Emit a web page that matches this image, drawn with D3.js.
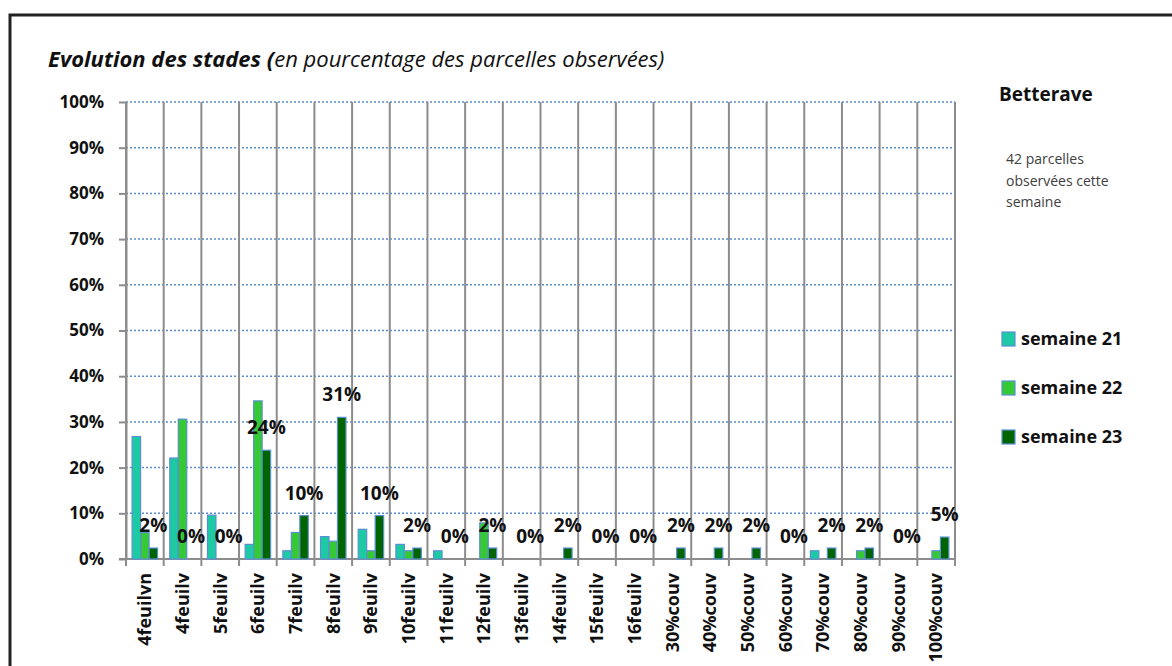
<!DOCTYPE html>
<html>
<head>
<meta charset="utf-8">
<script src="https://cdn.jsdelivr.net/npm/d3@7"></script>
<style>
  body { margin: 0; background: #fff; }
  svg { display: block; font-family: "Open Sans", sans-serif; }
</style>
</head>
<body>
<div id="chart-area"></div>
<script>
// stades observés
var categories = ["4feuilvn", "4feuilv", "5feuilv", "6feuilv", "7feuilv", "8feuilv", "9feuilv",
  "10feuilv", "11feuilv", "12feuilv", "13feuilv", "14feuilv", "15feuilv", "16feuilv",
  "30%couv", "40%couv", "50%couv", "60%couv", "70%couv", "80%couv", "90%couv", "100%couv"]

// % des parcelles
var semaine21 = [26.8, 22.1, 9.6, 3.2, 1.8, 4.9, 6.5, 3.2, 1.8, 0, 0, 0, 0, 0, 0, 0, 0, 0, 1.8, 0, 0, 0]
var semaine22 = [5.8, 30.6, 0, 34.6, 5.8, 3.9, 1.8, 1.8, 0, 7.9, 0, 0, 0, 0, 0, 0, 0, 0, 0, 1.8, 0, 1.8]
var semaine23 = [2.4, 0, 0, 23.8, 9.5, 31.0, 9.5, 2.4, 0, 2.4, 0, 2.4, 0, 0, 2.4, 2.4, 2.4, 0, 2.4, 2.4, 0, 4.8]

var seriesNames = ["semaine 21", "semaine 22", "semaine 23"]
var seriesColors = ["#1ccba4", "#35c935", "#006400"]
var yTicks = [0, 10, 20, 30, 40, 50, 60, 70, 80, 90, 100]

var title1 = "Evolution des stades ("
var title2 = "en pourcentage des parcelles observées)"
var cropName = "Betterave"
var noteLines = ["42 parcelles", "observées cette", "semaine"]

var width = 1172, height = 666
var plotLeft = 126, plotRight = 955, plotTop = 102, plotBottom = 559

var svg = d3.select("#chart-area")
  .append("svg")
  .attr("width", width)
  .attr("height", height)

// cadre
svg.append("path")
  .attr("d", "M10," + height + " V15 H" + width)
  .attr("fill", "none")
  .attr("stroke", "#222")
  .attr("stroke-width", 3)

var x = d3.scaleBand()
  .domain(categories)
  .range([plotLeft, plotRight])
  .padding(0)

var xSeries = d3.scaleBand()
  .domain(seriesNames)
  .range([0, x.bandwidth()])
  .paddingInner(0)
  .paddingOuter(0.72)

var y = d3.scaleLinear()
  .domain([0, 100])
  .range([plotBottom, plotTop])

var color = d3.scaleOrdinal()
  .domain(seriesNames)
  .range(seriesColors)

// grille horizontale en pointillés
svg.append("g").selectAll("line")
  .data(yTicks.slice(1))
  .enter()
  .append("line")
  .attr("x1", plotLeft)
  .attr("x2", plotRight)
  .attr("y1", function(d) { return y(d) })
  .attr("y2", function(d) { return y(d) })
  .attr("stroke", "#5a8cd0")
  .attr("stroke-width", 1.5)
  .attr("stroke-dasharray", "2,2")

// séparateurs verticaux entre catégories
var bounds = categories.map(function(c) { return x(c) }).concat([plotRight])
svg.append("g").selectAll("line")
  .data(bounds)
  .enter()
  .append("line")
  .attr("x1", function(d) { return d })
  .attr("x2", function(d) { return d })
  .attr("y1", plotTop)
  .attr("y2", plotBottom + 7)
  .attr("stroke", "#8c8c8c")
  .attr("stroke-width", 2)

// axe Y
var yAxis = d3.axisLeft(y)
  .tickValues(yTicks)
  .tickFormat(function(d) { return d + "%" })
  .tickSize(7)
  .tickSizeOuter(0)
  .tickPadding(15)

var gy = svg.append("g")
  .attr("transform", "translate(" + plotLeft + ",0)")
  .call(yAxis)
gy.select(".domain").attr("stroke", "#8c8c8c").attr("stroke-width", 2)
gy.selectAll(".tick line").attr("stroke", "#8c8c8c").attr("stroke-width", 2)
gy.selectAll(".tick text")
  .attr("font-family", "Open Sans")
  .attr("font-size", 17)
  .attr("font-weight", "bold")
  .attr("fill", "#111")

// axe X
svg.append("line")
  .attr("x1", plotLeft - 7)
  .attr("x2", plotRight)
  .attr("y1", plotBottom)
  .attr("y2", plotBottom)
  .attr("stroke", "#8c8c8c")
  .attr("stroke-width", 2)

svg.append("g").selectAll("text")
  .data(categories)
  .enter()
  .append("text")
  .attr("transform", function(d) {
    return "translate(" + (x(d) + x.bandwidth() / 2) + "," + (plotBottom + 14) + ") rotate(-90)"
  })
  .attr("text-anchor", "end")
  .attr("dy", "0.35em")
  .attr("font-size", 18)
  .attr("font-weight", "bold")
  .attr("fill", "#111")
  .text(function(d) { return d })

// barres
var rows = categories.map(function(c, i) {
  return { cat: c, values: [semaine21[i], semaine22[i], semaine23[i]] }
})

var groups = svg.append("g").selectAll("g")
  .data(rows)
  .enter()
  .append("g")
  .attr("transform", function(d) { return "translate(" + x(d.cat) + ",0)" })

groups.selectAll("rect")
  .data(function(d) {
    return d.values.map(function(v, j) { return { name: seriesNames[j], value: v } })
      .filter(function(e) { return e.value > 0 })
  })
  .enter()
  .append("rect")
  .attr("x", function(d) { return xSeries(d.name) })
  .attr("y", function(d) { return y(d.value) })
  .attr("width", xSeries.bandwidth())
  .attr("height", function(d) { return y(0) - y(d.value) })
  .attr("fill", function(d) { return color(d.name) })
  .attr("stroke", "#5b8fd4")
  .attr("stroke-width", 1.2)

// étiquettes semaine 23
svg.append("g").selectAll("text")
  .data(rows)
  .enter()
  .append("text")
  .attr("x", function(d) { return x(d.cat) + xSeries("semaine 23") + xSeries.bandwidth() / 2 })
  .attr("y", function(d) { return y(d.values[2]) - 16 })
  .attr("text-anchor", "middle")
  .attr("font-size", 19)
  .attr("font-weight", "bold")
  .attr("fill", "#111")
  .text(function(d) { return Math.round(d.values[2]) + "%" })

// titre
var title = svg.append("text")
  .attr("x", 48)
  .attr("y", 67)
  .attr("font-size", 22)
  .attr("font-style", "italic")
  .attr("fill", "#111")
title.append("tspan").attr("font-weight", "bold").text(title1)
title.append("tspan").text(title2)

svg.append("text")
  .attr("x", 999)
  .attr("y", 101)
  .attr("font-size", 19)
  .attr("font-weight", "bold")
  .attr("fill", "#111")
  .text(cropName)

svg.append("g").selectAll("text")
  .data(noteLines)
  .enter()
  .append("text")
  .attr("x", 1006)
  .attr("y", function(d, i) { return 164 + i * 21.5 })
  .attr("font-size", 14)
  .attr("fill", "#404040")
  .text(function(d) { return d })

// légende
var legend = svg.append("g").selectAll("g")
  .data(seriesNames)
  .enter()
  .append("g")
  .attr("transform", function(d, i) { return "translate(1002," + (332 + i * 49) + ")" })

legend.append("rect")
  .attr("width", 13)
  .attr("height", 14)
  .attr("fill", function(d) { return color(d) })
  .attr("stroke", "#5b8fd4")
  .attr("stroke-width", 1.2)

legend.append("text")
  .attr("x", 19)
  .attr("y", 13)
  .attr("font-size", 18)
  .attr("font-weight", "bold")
  .attr("fill", "#111")
  .text(function(d) { return d })
</script>
</body>
</html>
